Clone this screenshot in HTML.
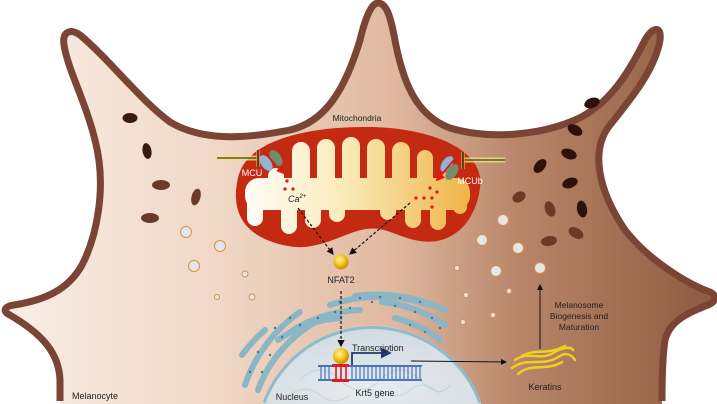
<!DOCTYPE html>
<html><head><meta charset="utf-8"><style>
html,body{margin:0;padding:0;background:#fff;width:717px;height:404px;overflow:hidden}
svg{display:block}
text{font-family:"Liberation Sans",sans-serif}
</style></head><body>
<svg width="717" height="404" viewBox="0 0 717 404" xmlns="http://www.w3.org/2000/svg" overflow="hidden">
<defs>
<linearGradient id="cell" x1="0" y1="0" x2="717" y2="0" gradientUnits="userSpaceOnUse">
<stop offset="0" stop-color="#f9eee6"/>
<stop offset="0.3" stop-color="#f0d8c7"/>
<stop offset="0.55" stop-color="#e0b89f"/>
<stop offset="0.72" stop-color="#b9866a"/>
<stop offset="1" stop-color="#8c5a3e"/>
</linearGradient>
<linearGradient id="inner" x1="245" y1="0" x2="470" y2="0" gradientUnits="userSpaceOnUse">
<stop offset="0" stop-color="#fffdf7"/>
<stop offset="0.45" stop-color="#faeab8"/>
<stop offset="1" stop-color="#efb446"/>
</linearGradient>
<radialGradient id="nuc" cx="0.5" cy="0.8" r="0.8">
<stop offset="0" stop-color="#e6ebee"/><stop offset="1" stop-color="#d0dae0"/>
</radialGradient>
<radialGradient id="ball" cx="0.4" cy="0.35" r="0.6">
<stop offset="0" stop-color="#fff3a0"/><stop offset="0.6" stop-color="#f2c51a"/><stop offset="1" stop-color="#c99400"/>
</radialGradient>
<marker id="ah" markerWidth="6" markerHeight="6" refX="5" refY="3" orient="auto"><path d="M0,0 L6,3 L0,6 Z" fill="#111"/></marker>
<marker id="ahb" markerWidth="6" markerHeight="6" refX="5" refY="3" orient="auto"><path d="M0,0 L6,3 L0,6 Z" fill="#1f3a6e"/></marker>
<marker id="ahr" markerWidth="5" markerHeight="5" refX="4" refY="2.5" orient="auto"><path d="M0,0 L5,2.5 L0,5 Z" fill="#e3141b"/></marker>
</defs>
<!-- cell fill -->
<path d="M60,404 L60,380 C59,355 45,335 8,314 C2,310 6,306 14,305 C45,300 68,290 82,265 C95,240 108,190 95,140 C85,100 68,70 64,45 C62,32 70,28 80,35 C110,60 140,100 170,122 C200,140 240,140 290,130 C325,122 345,90 360,40 C366,15 372,3 378,3 C386,3 390,15 394,35 C402,80 415,115 450,128 C490,140 540,135 575,120 C610,105 630,70 645,40 C652,27 662,25 660,40 C655,70 630,100 610,125 C590,150 598,190 625,230 C650,262 690,285 710,292 C718,296 715,302 708,305 C690,312 670,320 665,340 C662,360 662,385 662,404 Z"
 fill="url(#cell)"/>
<path d="M60,401 L60,380 C59,355 45,335 8,314 C2,310 6,306 14,305 C45,300 68,290 82,265 C95,240 108,190 95,140 C85,100 68,70 64,45 C62,32 70,28 80,35 C110,60 140,100 170,122 C200,140 240,140 290,130 C325,122 345,90 360,40 C366,15 372,3 378,3 C386,3 390,15 394,35 C402,80 415,115 450,128 C490,140 540,135 575,120 C610,105 630,70 645,40 C652,27 662,25 660,40 C655,70 630,100 610,125 C590,150 598,190 625,230 C650,262 690,285 710,292 C718,296 715,302 708,305 C690,312 670,320 665,340 C662,360 662,385 662,401"
 fill="none" stroke="#7a4535" stroke-width="7" stroke-linejoin="round"/>

<!-- melanosomes left -->
<g fill="#3a1a0e">
<ellipse cx="130" cy="118" rx="7.5" ry="5"/>
<ellipse cx="147" cy="151" rx="4.5" ry="8" transform="rotate(-10 147 151)"/>
</g>
<g fill="#6b3a28">
<ellipse cx="161" cy="185" rx="9" ry="5"/>
<ellipse cx="196" cy="197" rx="4.5" ry="8.5" transform="rotate(15 196 197)"/>
<ellipse cx="150" cy="218" rx="9" ry="5"/>
</g>
<!-- melanosomes right -->
<g fill="#2e120a">
<ellipse cx="592" cy="103" rx="8" ry="5" transform="rotate(-20 592 103)"/>
<ellipse cx="575" cy="130" rx="8" ry="5" transform="rotate(30 575 130)"/>
<ellipse cx="569" cy="154" rx="8" ry="5" transform="rotate(20 569 154)"/>
<ellipse cx="540" cy="166" rx="5" ry="8" transform="rotate(40 540 166)"/>
<ellipse cx="570" cy="183" rx="8" ry="5" transform="rotate(-20 570 183)"/>
<ellipse cx="582" cy="209" rx="5" ry="8.5" transform="rotate(-10 582 209)"/>
</g>
<g fill="#6a3a26">
<ellipse cx="519" cy="197" rx="7" ry="5" transform="rotate(-30 519 197)"/>
<ellipse cx="550" cy="209" rx="5" ry="8" transform="rotate(-20 550 209)"/>
<ellipse cx="576" cy="233" rx="8" ry="5" transform="rotate(30 576 233)"/>
<ellipse cx="549" cy="241" rx="8" ry="5" transform="rotate(-10 549 241)"/>
</g>

<!-- vesicles -->
<g fill="#e4e6e8" stroke="#d79147" stroke-width="1">
<circle cx="186" cy="232" r="5.5"/><circle cx="220" cy="246" r="5.5"/><circle cx="194" cy="266" r="5.5"/>
<circle cx="245" cy="274" r="3"/><circle cx="217" cy="297" r="2.5"/><circle cx="252" cy="297" r="3"/>
<circle cx="503" cy="220" r="5.5"/><circle cx="482" cy="240" r="5.5"/><circle cx="518" cy="248" r="5.5"/>
<circle cx="496" cy="271" r="5.5"/><circle cx="540" cy="268" r="5.5"/>
<circle cx="457" cy="268" r="2.5"/><circle cx="466" cy="295" r="2.5"/><circle cx="509" cy="291" r="2.5"/>
<circle cx="493" cy="315" r="2.5"/><circle cx="463" cy="322" r="2.5"/>
</g>

<!-- mitochondria -->
<path d="M238,178 C246,138 315,126 370,127 C432,128 486,150 480,188 C475,225 450,246 420,241 C396,237 386,226 366,229 C345,232 318,252 288,246 C244,238 230,212 238,178 Z" fill="#c42a12"/>
<g fill="url(#inner)">
<rect x="245" y="178" width="225" height="32" rx="14"/>
<rect x="268" y="168" width="16" height="34" rx="8"/>
<rect x="292" y="142" width="18" height="60" rx="9"/>
<rect x="317" y="139" width="18" height="62" rx="9"/>
<rect x="342" y="137" width="18" height="62" rx="9"/>
<rect x="367" y="139" width="18" height="62" rx="9"/>
<rect x="392" y="142" width="18" height="60" rx="9"/>
<rect x="417" y="150" width="16" height="50" rx="8"/>
<rect x="440" y="172" width="14" height="30" rx="7"/>
<rect x="247" y="192" width="16" height="34" rx="8"/>
<rect x="281" y="192" width="16" height="42" rx="8"/>
<rect x="305" y="192" width="16" height="36" rx="8"/>
<rect x="329" y="192" width="16" height="30" rx="8"/>
<rect x="380" y="192" width="16" height="28" rx="8"/>
<rect x="405" y="192" width="16" height="36" rx="8"/>
<rect x="430" y="192" width="16" height="38" rx="8"/>
<rect x="453" y="188" width="14" height="26" rx="7"/>
</g>

<!-- MCU left -->
<line x1="217" y1="158" x2="258" y2="158" stroke="#f3e27a" stroke-width="5" opacity="0.8"/>
<line x1="217" y1="158" x2="258" y2="158" stroke="#111" stroke-width="1"/>
<rect x="256" y="150" width="4" height="17" fill="#e8a040" opacity="0.7"/>
<line x1="258" y1="150" x2="258" y2="167" stroke="#111" stroke-width="1.2"/>
<ellipse cx="266" cy="163" rx="5" ry="9" transform="rotate(-35 266 163)" fill="#8fb4d6"/>
<ellipse cx="276" cy="158" rx="5" ry="9" transform="rotate(-35 276 158)" fill="#6e8f6a"/>
<line x1="266" y1="154" x2="283" y2="173" stroke="#e3141b" stroke-width="1.5" marker-end="url(#ahr)"/>
<text x="252" y="176" font-size="9" fill="#fff" text-anchor="middle">MCU</text>
<!-- MCU right -->
<line x1="463" y1="160" x2="505" y2="160" stroke="#f3e27a" stroke-width="5" opacity="0.8"/>
<line x1="463" y1="160" x2="505" y2="160" stroke="#111" stroke-width="1"/>
<rect x="461" y="152" width="4" height="17" fill="#e8a040" opacity="0.7"/>
<line x1="463" y1="152" x2="463" y2="169" stroke="#111" stroke-width="1.2"/>
<ellipse cx="447" cy="164" rx="5" ry="9" transform="rotate(35 447 164)" fill="#8fb4d6"/>
<ellipse cx="452" cy="172" rx="5" ry="9" transform="rotate(35 452 172)" fill="#6e8f6a"/>
<line x1="454" y1="160" x2="437" y2="180" stroke="#e3141b" stroke-width="1.8" marker-end="url(#ahr)"/>
<text x="470" y="184" font-size="9" fill="#fff" text-anchor="middle">MCUb</text>

<g fill="#e3141b">
<circle cx="287" cy="181" r="1.6"/><circle cx="285" cy="189" r="1.6"/><circle cx="293" cy="189" r="1.6"/>
<circle cx="430" cy="188" r="1.6"/><circle cx="437" cy="192" r="1.6"/><circle cx="416" cy="198" r="1.6"/>
<circle cx="424" cy="198" r="1.6"/><circle cx="432" cy="198" r="1.6"/><circle cx="432" cy="207" r="1.6"/>
</g>
<text x="288" y="202" font-size="9" font-style="italic" fill="#222" font-family="Liberation Serif,serif">Ca<tspan font-size="6" dy="-4">2+</tspan></text>
<text x="357" y="121" font-size="8.5" fill="#222" text-anchor="middle">Mitochondria</text>

<!-- dashed arrows -->
<line x1="298" y1="208" x2="333" y2="254" stroke="#111" stroke-width="1.2" stroke-dasharray="3,2" marker-end="url(#ah)"/>
<line x1="410" y1="203" x2="350" y2="254" stroke="#111" stroke-width="1.2" stroke-dasharray="3,2" marker-end="url(#ah)"/>
<circle cx="341" cy="262" r="7.5" fill="url(#ball)"/>
<text x="341" y="283" font-size="9" fill="#222" text-anchor="middle">NFAT2</text>

<!-- nucleus (clipped to frame) -->
<path d="M263,404 A115,115 0 0 1 481,404 Z" fill="url(#nuc)"/>
<path d="M264,403 A115,115 0 0 1 480,403" fill="none" stroke="#8fbccc" stroke-width="3"/>
<g fill="none" stroke="#a8ccd8" stroke-width="0.7" opacity="0.8">
<path d="M300,380 q20,-20 40,0 t40,0 t40,0 t30,5"/>
<path d="M290,395 q15,-12 30,0 t30,0"/>
<path d="M380,390 q15,12 30,0 t30,5"/>
</g>
<!-- ER -->
<g fill="none" stroke="#8ab6c6" stroke-width="6" stroke-linecap="round">
<path d="M258,390 A130,130 0 0 1 330,315"/>
<path d="M245,385 A145,145 0 0 1 300,312"/>
<path d="M278,340 A125,125 0 0 1 340,318"/>
<path d="M290,332 A140,140 0 0 1 360,310"/>
<path d="M330,305 A155,155 0 0 1 430,305"/>
<path d="M355,296 A160,160 0 0 1 445,310"/>
<path d="M382,302 A140,140 0 0 1 445,325"/>
<path d="M395,318 A120,120 0 0 1 440,340"/>
<path d="M242,355 A150,150 0 0 1 265,330"/>
</g>
<g fill="#3e7f92">
<circle cx="262" cy="372" r="1.2"/><circle cx="270" cy="355" r="1.2"/><circle cx="282" cy="337" r="1.2"/><circle cx="300" cy="325" r="1.2"/>
<circle cx="250" cy="372" r="1.2"/><circle cx="258" cy="352" r="1.2"/><circle cx="275" cy="328" r="1.2"/><circle cx="290" cy="318" r="1.2"/>
<circle cx="318" cy="318" r="1.2"/><circle cx="335" cy="312" r="1.2"/><circle cx="350" cy="308" r="1.2"/>
<circle cx="340" cy="302" r="1.2"/><circle cx="360" cy="298" r="1.2"/><circle cx="380" cy="297" r="1.2"/><circle cx="400" cy="298" r="1.2"/><circle cx="420" cy="302" r="1.2"/>
<circle cx="395" cy="306" r="1.2"/><circle cx="415" cy="312" r="1.2"/><circle cx="432" cy="318" r="1.2"/><circle cx="440" cy="328" r="1.2"/>
<circle cx="410" cy="325" r="1.2"/><circle cx="425" cy="332" r="1.2"/><circle cx="372" cy="302" r="1.2"/>
</g>

<!-- NFAT2 to DNA -->
<line x1="341" y1="291" x2="341" y2="346" stroke="#111" stroke-width="1.2" stroke-dasharray="3,2" marker-end="url(#ah)"/>
<!-- DNA -->
<g>
<line x1="318" y1="366" x2="422" y2="366" stroke="#4a73b8" stroke-width="2"/>
<line x1="318" y1="380" x2="422" y2="380" stroke="#4a73b8" stroke-width="2"/>
<g stroke="#4a73b8" stroke-width="1.2">
<line x1="321" y1="366" x2="321" y2="380"/><line x1="325" y1="366" x2="325" y2="380"/><line x1="329" y1="366" x2="329" y2="380"/>
<line x1="352" y1="366" x2="352" y2="380"/><line x1="356" y1="366" x2="356" y2="380"/><line x1="360" y1="366" x2="360" y2="380"/><line x1="364" y1="366" x2="364" y2="380"/><line x1="368" y1="366" x2="368" y2="380"/><line x1="372" y1="366" x2="372" y2="380"/><line x1="376" y1="366" x2="376" y2="380"/><line x1="380" y1="366" x2="380" y2="380"/><line x1="384" y1="366" x2="384" y2="380"/><line x1="388" y1="366" x2="388" y2="380"/><line x1="392" y1="366" x2="392" y2="380"/><line x1="396" y1="366" x2="396" y2="380"/><line x1="400" y1="366" x2="400" y2="380"/><line x1="404" y1="366" x2="404" y2="380"/><line x1="408" y1="366" x2="408" y2="380"/><line x1="412" y1="366" x2="412" y2="380"/><line x1="416" y1="366" x2="416" y2="380"/><line x1="420" y1="366" x2="420" y2="380"/>
</g>
<rect x="332" y="364" width="17" height="3" fill="#e01b22"/><rect x="332" y="379" width="17" height="3" fill="#e01b22"/>
<g stroke="#e01b22" stroke-width="1.6"><line x1="336" y1="366" x2="336" y2="380"/><line x1="341" y1="366" x2="341" y2="380"/><line x1="346" y1="366" x2="346" y2="380"/></g>
</g>
<circle cx="341" cy="356" r="8" fill="url(#ball)"/>
<path d="M352,365 L352,353 L390,353" fill="none" stroke="#1f3a6e" stroke-width="1.8" marker-end="url(#ahb)"/>
<text x="352" y="351" font-size="9" fill="#222">Transcription</text>
<line x1="411" y1="361" x2="506" y2="362" stroke="#111" stroke-width="1" marker-end="url(#ah)"/>
<text x="375" y="396" font-size="9" fill="#222" text-anchor="middle">Krt5 gene</text>
<text x="292" y="400" font-size="9" fill="#222" text-anchor="middle">Nucleus</text>
<text x="72" y="399" font-size="9" fill="#222">Melanocyte</text>

<!-- keratins -->
<g fill="none" stroke="#f0cf1e" stroke-width="2.5" stroke-linecap="round">
<path d="M515,360 C530,350 540,362 555,352 C562,348 570,346 573,350"/>
<path d="M512,368 C528,356 542,368 560,356 C566,352 572,355 575,360"/>
<path d="M518,374 C532,362 545,372 562,362"/>
<path d="M522,356 C536,348 545,356 565,346"/>
</g>
<text x="545" y="390" font-size="9" fill="#222" text-anchor="middle">Keratins</text>
<line x1="540" y1="349" x2="540" y2="285" stroke="#111" stroke-width="1" marker-end="url(#ah)"/>
<text x="579" y="308" font-size="8.5" fill="#222" text-anchor="middle">Melanosome</text>
<text x="579" y="319" font-size="8.5" fill="#222" text-anchor="middle">Biogenesis and</text>
<text x="579" y="330" font-size="8.5" fill="#222" text-anchor="middle">Maturation</text>
</svg>
</body></html>
